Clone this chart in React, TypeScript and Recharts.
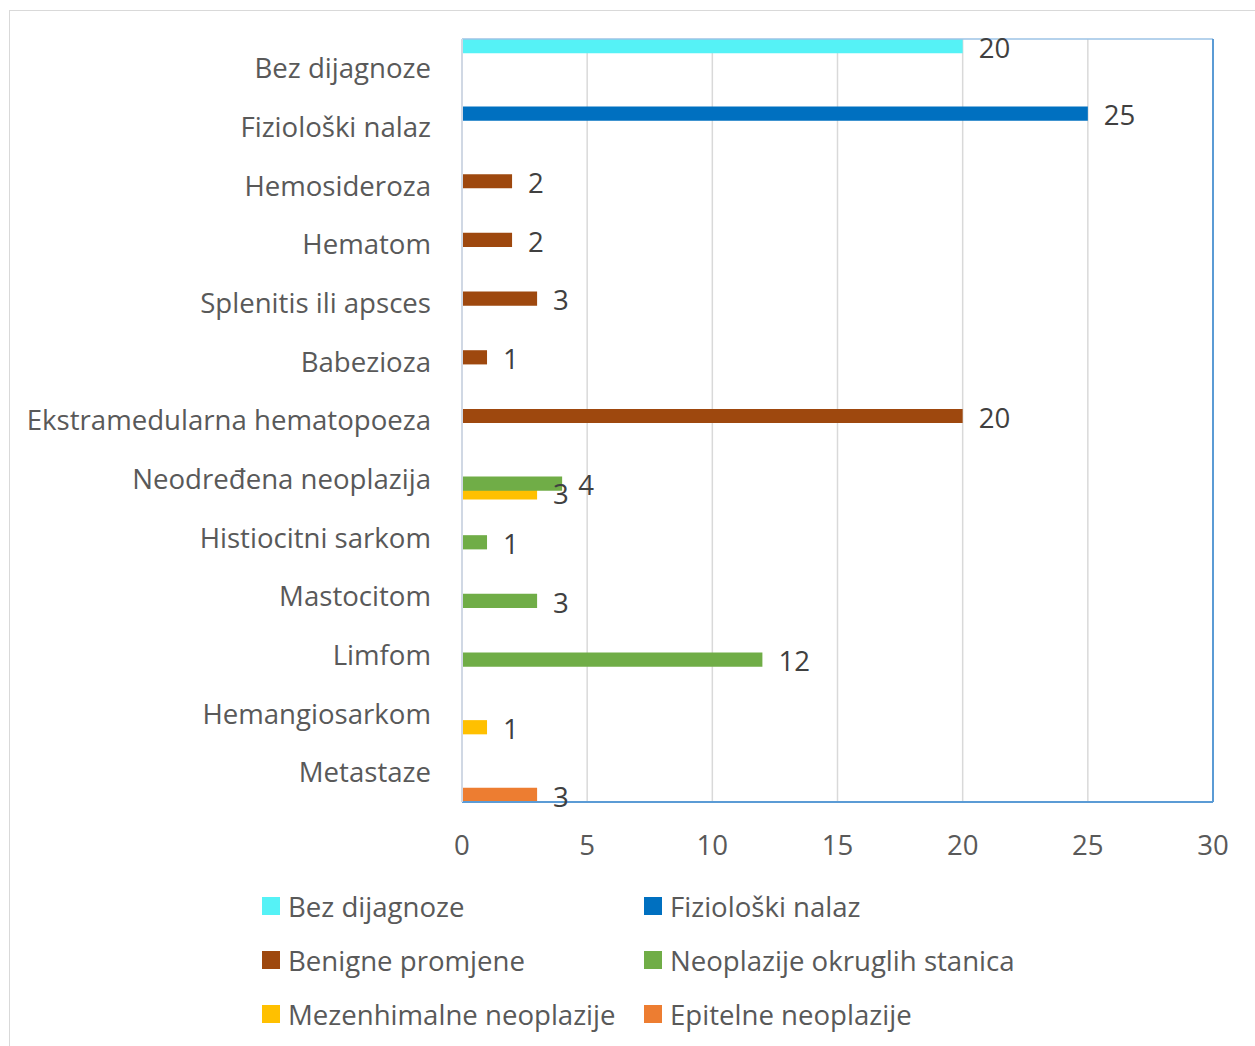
import React from "react";
import {
  Bar,
  BarChart,
  CartesianGrid,
  LabelList,
  Legend,
  ReferenceLine,
  XAxis,
  YAxis,
} from "recharts";

const categories = [
  "Bez dijagnoze",
  "Fiziološki nalaz",
  "Hemosideroza",
  "Hematom",
  "Splenitis ili apsces",
  "Babezioza",
  "Ekstramedularna hematopoeza",
  "Neodređena neoplazija",
  "Histiocitni sarkom",
  "Mastocitom",
  "Limfom",
  "Hemangiosarkom",
  "Metastaze",
];

const bezDijagnoze = [20, null, null, null, null, null, null, null, null, null, null, null, null];
const fizioloskiNalaz = [null, 25, null, null, null, null, null, null, null, null, null, null, null];
const benignePromjene = [null, null, 2, 2, 3, 1, 20, null, null, null, null, null, null];
const okruglihStanica = [null, null, null, null, null, null, null, 4, 1, 3, 12, null, null];
const mezenhimalne = [null, null, null, null, null, null, null, 3, null, null, null, 1, null];
const epitelne = [null, null, null, null, null, null, null, null, null, null, null, null, 3];

const xTicks = [0, 5, 10, 15, 20, 25, 30];

const series = [
  { key: "bez", name: "Bez dijagnoze", color: "#55F2F6", values: bezDijagnoze },
  { key: "fiz", name: "Fiziološki nalaz", color: "#0070C0", values: fizioloskiNalaz },
  { key: "ben", name: "Benigne promjene", color: "#9E480E", values: benignePromjene },
  { key: "okr", name: "Neoplazije okruglih stanica", color: "#70AD47", values: okruglihStanica },
  { key: "mez", name: "Mezenhimalne neoplazije", color: "#FFC000", values: mezenhimalne },
  { key: "epi", name: "Epitelne neoplazije", color: "#ED7D31", values: epitelne },
];

const data = categories.map((name, i) => {
  const row: Record<string, string | number | null> = { name };
  series.forEach((s) => {
    row[s.key] = s.values[i];
  });
  return row;
});

const FONT = "'Open Sans', sans-serif";
const FS = 27.6;

function LegendGrid() {
  return (
    <div style={{ position: "relative", width: 1245, height: 170, fontFamily: FONT }}>
      {series.map((s, i) => {
        const col = i % 2;
        const row = Math.floor(i / 2);
        return (
          <div
            key={s.key}
            style={{
              position: "absolute",
              left: col === 0 ? 252 : 634,
              top: 17 + row * 54,
              height: 54,
              display: "flex",
              alignItems: "center",
              whiteSpace: "nowrap",
            }}
          >
            <span style={{ width: 18, height: 18, background: s.color, marginRight: 8 }} />
            <span style={{ fontSize: FS, color: "#595959" }}>{s.name}</span>
          </div>
        );
      })}
    </div>
  );
}

export default function App() {
  return (
    <div style={{ position: "absolute", left: 0, top: 0, width: 1255, height: 1046, overflow: "hidden", background: "#fff" }}>
      <div
        style={{
          position: "absolute",
          left: 9,
          top: 10,
          width: 1246,
          height: 1036,
          borderTop: "1px solid #d9d9d9",
          borderLeft: "1px solid #d9d9d9",
        }}
      >
        <BarChart
          width={1245}
          height={1035}
          data={data}
          layout="vertical"
          margin={{ top: 28, right: 42, bottom: 14, left: 0 }}
          barCategoryGap={0}
          barGap={-5.32}
          barSize={14.2}
          style={{ fontFamily: FONT }}
        >
          <CartesianGrid horizontal={false} stroke="#d9d9d9" strokeWidth={1.5} />
          <XAxis
            type="number"
            domain={[0, 30]}
            ticks={xTicks}
            interval={0}
            tickLine={false}
            tickSize={0}
            tickMargin={33}
            height={60}
            axisLine={{ stroke: "#5B9BD5", strokeWidth: 2 }}
            tick={{ fill: "#595959", fontSize: FS }}
          />
          <YAxis
            type="category"
            dataKey="name"
            width={452}
            interval={0}
            tickLine={false}
            tickSize={0}
            tickMargin={31}
            axisLine={{ stroke: "#D0D8E4", strokeWidth: 2 }}
            tick={{ fill: "#595959", fontSize: FS }}
          />
          <ReferenceLine y={categories[0]} position="start" stroke="#9DC3E6" strokeWidth={1.5} />
          <ReferenceLine x={30} stroke="#5B9BD5" strokeWidth={2} />
          {series.map((s, i) => (
            <Bar
              key={s.key}
              dataKey={s.key}
              name={s.name}
              fill={s.color}
              isAnimationActive={false}
              zIndex={310 - i}
            >
              <LabelList dataKey={s.key} position="right" offset={16} dy={2} fill="#404040" fontSize={FS} />
            </Bar>
          ))}
          <Legend verticalAlign="bottom" content={() => <LegendGrid />} wrapperStyle={{ left: 0, width: 1245 }} />
        </BarChart>
      </div>
    </div>
  );
}
